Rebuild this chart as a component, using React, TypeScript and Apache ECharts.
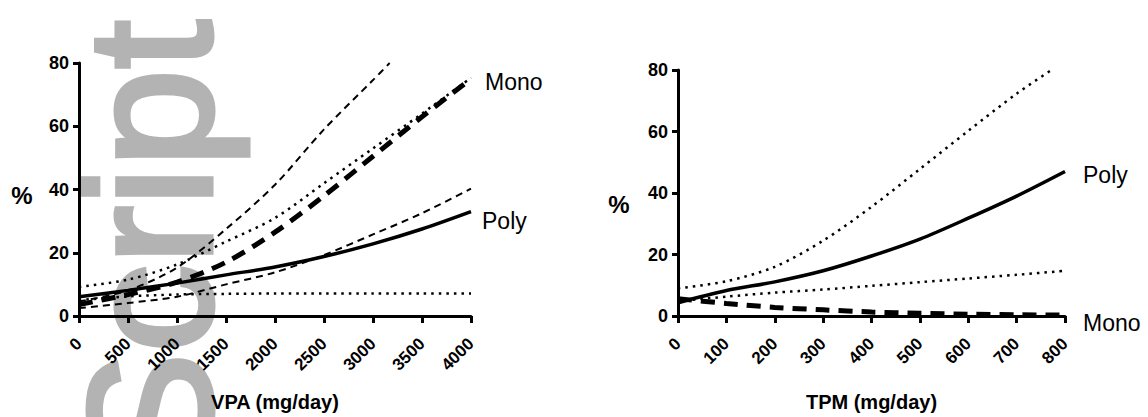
import React, { useEffect, useRef } from "react";
import * as echarts from "echarts";

// ---- data ----
const vpaX = [0, 500, 1000, 1500, 2000, 2500, 3000, 3500, 4000];
const vpaMonoUpperX = [0, 500, 1000, 1500, 2000, 2500, 3000, 3170];
const polyVPA = [6.1, 8.1, 10.4, 13.0, 15.5, 18.8, 22.8, 27.5, 33.0];
const polyVPAUpper = [9.2, 11.5, 16.3, 23.5, 31.0, 42.0, 53.0, 64.0, 75.3];
const polyVPALower = [5.0, 6.2, 6.8, 7.0, 7.1, 7.1, 7.1, 7.1, 7.1];
const monoVPA = [3.6, 6.8, 10.7, 17.0, 26.5, 38.0, 50.5, 63.0, 75.0];
const monoVPAUpper = [4.6, 8.1, 15.3, 27.5, 41.5, 59.0, 74.6, 80.0];
const monoVPALower = [2.5, 4.1, 6.1, 10.0, 13.8, 19.3, 25.8, 32.5, 40.3];

const tpmX = [0, 100, 200, 300, 400, 500, 600, 700, 800];
const tpmPolyUpperX = [0, 100, 200, 300, 400, 500, 600, 700, 770];
const polyTPM = [4.3, 8.3, 11.1, 14.7, 19.5, 25.0, 31.8, 39.0, 47.0];
const polyTPMUpper = [9.0, 11.3, 16.0, 24.5, 35.5, 47.8, 60.2, 72.3, 79.8];
const polyTPMLower = [4.8, 6.3, 7.6, 8.6, 9.8, 11.0, 12.2, 13.4, 14.7];
const monoTPM = [5.6, 4.1, 2.8, 2.0, 1.3, 0.9, 0.6, 0.4, 0.3];

const yTicksMax = 80;
const yInterval = 20;

const FONT = "'Liberation Sans', Arial, Helvetica, sans-serif";

const pairs = (xs: number[], ys: number[]) => xs.map((x, i) => [x, ys[i]]);

const solid = { width: 3.5, color: "#000", type: "solid" as any };
const thickDash = { width: 5, color: "#000", type: [14, 9] as any };
const thinDash = { width: 2, color: "#000", type: [7, 5] as any };
const dotted = { width: 2.5, color: "#000", type: [2.5, 5] as any };

function mkSeries(name: string, idx: number, data: number[][], ls: any) {
  return {
    name,
    type: "line",
    xAxisIndex: idx,
    yAxisIndex: idx,
    data,
    showSymbol: false,
    smooth: 0.3,
    lineStyle: ls,
    z: 3,
    silent: true,
  };
}

function xAxisCfg(idx: number, max: number, interval: number, name: string) {
  return {
    type: "value",
    gridIndex: idx,
    min: 0,
    max,
    interval,
    name,
    nameLocation: "middle",
    nameGap: 76,
    nameTextStyle: { fontFamily: FONT, fontWeight: "bold", fontSize: 20, color: "#000" },
    axisLine: { show: true, onZero: false, lineStyle: { color: "#000", width: 3 } },
    axisTick: { show: true, length: 7, lineStyle: { color: "#000", width: 3 } },
    axisLabel: {
      rotate: 45,
      margin: 25,
      fontFamily: FONT,
      fontWeight: "bold",
      fontSize: 17,
      color: "#000",
      formatter: (v: number) => String(v),
    },
    splitLine: { show: false },
  };
}

function yAxisCfg(idx: number) {
  return {
    type: "value",
    gridIndex: idx,
    min: 0,
    max: yTicksMax,
    interval: yInterval,
    axisLine: { show: true, onZero: false, lineStyle: { color: "#000", width: 3 } },
    axisTick: { show: true, length: 6, lineStyle: { color: "#000", width: 3 } },
    axisLabel: { margin: 10, fontFamily: FONT, fontWeight: "bold", fontSize: 18, color: "#000" },
    splitLine: { show: false },
  };
}

function label(text: string, x: number, y: number, bold = false, size = 23, align = "left") {
  return {
    type: "text",
    x,
    y,
    z: 5,
    silent: true,
    style: {
      text,
      fontFamily: FONT,
      fontSize: size,
      fontWeight: bold ? "bold" : "normal",
      fill: "#000",
      align,
      verticalAlign: "middle",
      textAlign: align,
      textVerticalAlign: "middle",
    },
  };
}

export default function App() {
  const ref = useRef<HTMLDivElement>(null);
  useEffect(() => {
    if (!ref.current) return;
    const chart = echarts.init(ref.current, null, { renderer: "svg" });
    const option: any = {
      animation: false,
      backgroundColor: "#fff",
      grid: [
        { left: 79, top: 63, width: 392, height: 262, containLabel: false },
        { left: 678, top: 70, width: 387, height: 257, containLabel: false },
      ],
      xAxis: [xAxisCfg(0, 4000, 500, "VPA (mg/day)"), xAxisCfg(1, 800, 100, "TPM (mg/day)")],
      yAxis: [yAxisCfg(0), yAxisCfg(1)],
      graphic: [
        {
          type: "text",
          x: 150,
          y: 470,
          rotation: Math.PI / 2,
          z: -10,
          silent: true,
          style: {
            text: "Script",
            fontFamily: FONT,
            fontSize: 176,
            fill: "#b3b3b3",
            stroke: "#b3b3b3",
            lineWidth: 5,
            align: "left",
            verticalAlign: "middle",
            textAlign: "left",
            textVerticalAlign: "middle",
          },
        },
        label("%", 22, 195, true, 24, "center"),
        label("%", 619, 204, true, 24, "center"),
        label("Mono", 485, 82),
        label("Poly", 482, 221),
        label("Poly", 1083, 175),
        label("Mono", 1083, 323),
      ],
      series: [
        mkSeries("Poly VPA lower", 0, pairs(vpaX, polyVPALower), dotted),
        mkSeries("Poly VPA upper", 0, pairs(vpaX, polyVPAUpper), dotted),
        mkSeries("Mono VPA lower", 0, pairs(vpaX, monoVPALower), thinDash),
        mkSeries("Mono VPA upper", 0, pairs(vpaMonoUpperX, monoVPAUpper), thinDash),
        mkSeries("Poly VPA", 0, pairs(vpaX, polyVPA), solid),
        mkSeries("Mono VPA", 0, pairs(vpaX, monoVPA), thickDash),
        mkSeries("Poly TPM lower", 1, pairs(tpmX, polyTPMLower), dotted),
        mkSeries("Poly TPM upper", 1, pairs(tpmPolyUpperX, polyTPMUpper), dotted),
        mkSeries("Poly TPM", 1, pairs(tpmX, polyTPM), solid),
        mkSeries("Mono TPM", 1, pairs(tpmX, monoTPM), thickDash),
      ],
    };
    chart.setOption(option);
    return () => chart.dispose();
  }, []);
  return (
    <div
      ref={ref}
      style={{ position: "fixed", left: 0, top: 0, width: 1148, height: 417, background: "#fff" }}
    />
  );
}
